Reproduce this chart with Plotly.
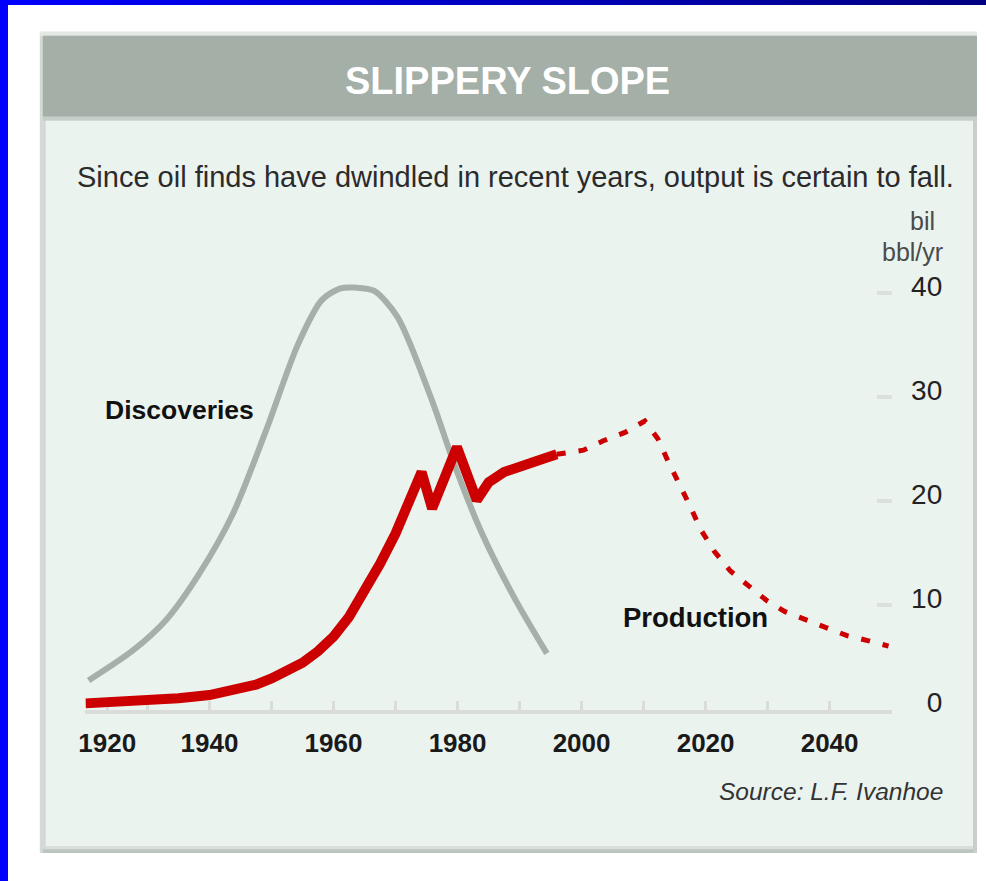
import plotly.graph_objects as go

# ---------------- data ----------------
disc_years = [1920.5, 1927.7, 1933.0, 1938.3, 1943.7, 1949.0, 1954.3, 1958.1, 1961.0,
              1963.5, 1966.5, 1970.3, 1975.8, 1979.5, 1983.8, 1989.1, 1994.4]
disc_vals = [2.8, 5.7, 8.6, 13.0, 18.7, 26.6, 35.1, 39.3, 40.4,
             40.5, 40.2, 37.7, 29.8, 23.5, 17.1, 10.8, 5.4]

prod_years = [1920, 1925, 1930, 1935, 1940, 1945, 1947.5, 1950, 1952.5, 1955, 1957.5,
              1960, 1962.5, 1965, 1967.5, 1970, 1972, 1974.2, 1975.9, 1979.9, 1983.1,
              1985.0, 1987.5, 1990.0, 1993.0, 1996.0]
prod_vals = [0.6, 0.7, 0.85, 1.1, 1.4, 2.0, 2.4, 3.0, 3.7, 4.5, 5.6,
             7.0, 8.9, 11.3, 14.0, 16.9, 19.6, 22.8, 19.3, 25.2, 20.1,
             21.8, 22.8, 23.4, 23.9, 24.5]

proj_years = [1996.0, 2000.3, 2003.5, 2007.0, 2010.2, 2012.3, 2013.9, 2015.8, 2017.6,
              2019.2, 2021.4, 2024.0, 2027.0, 2030.0, 2032.8, 2036.0, 2039.2, 2042.8,
              2046.3, 2049.5]
proj_vals = [24.5, 24.9, 25.8, 26.6, 27.7, 26.0, 23.9, 21.7, 19.4,
             17.3, 15.2, 13.3, 11.9, 10.4, 9.4, 8.7, 8.0, 7.1, 6.6, 6.1]

x_tick_years = [1920, 1940, 1960, 1980, 2000, 2020, 2040]
x_tick_labels = ["1920", "1940", "1960", "1980", "2000", "2020", "2040"]
x_minor_years = [1930, 1950, 1970, 1990, 2010, 2030, 2050]
y_tick_vals = [0, 10, 20, 30, 40]
y_tick_labels = ["0", "10", "20", "30", "40"]

title = "SLIPPERY SLOPE"
subtitle = "Since oil finds have dwindled in recent years, output is certain to fall."
unit_lines = ["bil", "bbl/yr"]
source = "Source: L.F. Ivanhoe"

# ---------------- layout helpers ----------------
# The page keeps the browser's default 8px body margin, so the figure is
# 16px smaller than the window and every layout position is given in window
# pixels and shifted by that margin.
PAGE_W, PAGE_H = 986, 881
OFF = 8
W, H = PAGE_W - 2 * OFF, PAGE_H - 2 * OFF
FONT = "Liberation Sans, Arial, Helvetica, sans-serif"


def px(x):
    return min(max(x - OFF, 0), W) / W


def py(y):
    return (H - min(max(y - OFF, 0), H)) / H


RED = "#cc0000"
GRAY = "#a5b0a8"
PANEL = "#ebf3ef"
HEADER = "#a4afa7"
TICK = "#d9dcd9"

# first label is nudged right so it does not hang off the axis start
label_pos = [x_tick_years[0] + 3.5] + x_tick_years[1:]

fig = go.Figure()

fig.add_trace(go.Scatter(x=disc_years, y=disc_vals, mode="lines",
                         line=dict(color=GRAY, width=6, shape="spline", smoothing=0.8),
                         hoverinfo="skip", showlegend=False))
fig.add_trace(go.Scatter(x=prod_years, y=prod_vals, mode="lines",
                         line=dict(color=RED, width=10),
                         hoverinfo="skip", showlegend=False))
fig.add_trace(go.Scatter(x=proj_years, y=proj_vals, mode="lines",
                         line=dict(color=RED, width=5, dash="9px,13px"),
                         hoverinfo="skip", showlegend=False))
# helper trace so the label axis is rendered
fig.add_trace(go.Scatter(x=disc_years, y=disc_vals, yaxis="y2", mode="lines",
                         line=dict(width=0), opacity=0,
                         hoverinfo="skip", showlegend=False))

shapes = []


def rect(x0, y0, x1, y1, color):
    shapes.append(dict(type="rect", xref="paper", yref="paper",
                       x0=px(x0), x1=px(x1), y0=py(y1), y1=py(y0),
                       fillcolor=color, line=dict(width=0), layer="below"))


# panel
rect(33, 32, 977, 862, "#d3dad6")
rect(33, 32, 977, 36, "#e3e8e5")
rect(36, 36, 977, 118, HEADER)
rect(36, 118, 977, 122, "#c6cec9")
rect(39, 122, 973, 855, PANEL)
rect(39, 855, 977, 858, "#d8dfdb")
rect(36, 858, 977, 862, "#bcc6c0")
rect(973, 118, 977, 862, "#c8cfcb")

annotations = [
    dict(text=title, x=px(504), y=py(82), xref="paper", yref="paper",
         xanchor="center", yanchor="middle", showarrow=False,
         font=dict(family=FONT, size=38, color="white", weight="bold")),
    dict(text=subtitle, x=px(68), y=py(179), xref="paper", yref="paper",
         xanchor="left", yanchor="middle", showarrow=False,
         font=dict(family=FONT, size=29, color="#2b2b2b")),
    dict(text=unit_lines[0], x=px(937), y=py(223), xref="paper", yref="paper",
         xanchor="right", yanchor="middle", showarrow=False,
         font=dict(family=FONT, size=25, color="#4a4a4a")),
    dict(text=unit_lines[1], x=px(945), y=py(255), xref="paper", yref="paper",
         xanchor="right", yanchor="middle", showarrow=False,
         font=dict(family=FONT, size=25, color="#4a4a4a")),
    dict(text="Discoveries", x=px(97), y=py(414), xref="paper", yref="paper",
         xanchor="left", yanchor="middle", showarrow=False,
         font=dict(family=FONT, size=26.5, color="#111111", weight="bold")),
    dict(text="Production", x=px(618), y=py(624), xref="paper", yref="paper",
         xanchor="left", yanchor="middle", showarrow=False,
         font=dict(family=FONT, size=27.5, color="#111111", weight="bold")),
    dict(text=source, x=px(945), y=py(800), xref="paper", yref="paper",
         xanchor="right", yanchor="middle", showarrow=False,
         font=dict(family=FONT, size=24.5, color="#333333", style="italic")),
]

y_top = (717 - 270) / 10.53

fig.update_layout(
    width=W, height=H,
    margin=dict(l=0, r=0, t=0, b=0, pad=0),
    paper_bgcolor="rgba(0,0,0,0)",
    plot_bgcolor="rgba(0,0,0,0)",
    showlegend=False,
    shapes=shapes,
    annotations=annotations,
    xaxis=dict(domain=[px(79), px(891)], range=[1920, 2050],
               showgrid=False, zeroline=False,
               showline=True, linecolor=TICK, linewidth=4,
               ticks="inside", ticklen=9, tickwidth=3, tickcolor=TICK,
               tickmode="array", tickvals=label_pos, ticktext=x_tick_labels,
               ticklabelstandoff=7,
               minor=dict(tickmode="array", tickvals=x_minor_years, ticks="inside",
                          ticklen=9, tickwidth=3, tickcolor=TICK, showgrid=False),
               tickfont=dict(family=FONT, size=26, color="#1a1a1a", weight="bold"),
               layer="below traces", fixedrange=True),
    yaxis=dict(domain=[py(717), py(270)], range=[0, y_top], anchor="x",
               side="right", showgrid=False, zeroline=False, showline=False,
               ticks="inside", ticklen=15, tickwidth=4, tickcolor="#dcdfdc",
               tickmode="array", tickvals=y_tick_vals[1:], showticklabels=False,
               layer="below traces", fixedrange=True),
    yaxis2=dict(overlaying="y", matches="y", anchor="free", position=px(942),
                side="left", showgrid=False, zeroline=False, showline=False,
                ticks="", tickmode="array", tickvals=y_tick_vals, ticktext=y_tick_labels,
                ticklabelshift=-7,
                tickfont=dict(family=FONT, size=28, color="#222222"),
                fixedrange=True),
)

# page background: white, with the blue frame (left bar and gradient top bar)
post = """
var bg = 'linear-gradient(to right, #0000ff, #000080) 0 0 / 100% 5px no-repeat, ' +
         'linear-gradient(#0000ff, #0000ff) 0 0 / 8px 100% no-repeat, #ffffff';
document.documentElement.style.background = bg;
document.documentElement.style.minHeight = '100%';
"""

fig.write_html("out.html", config={"displayModeBar": False, "staticPlot": True},
               post_script=post)
